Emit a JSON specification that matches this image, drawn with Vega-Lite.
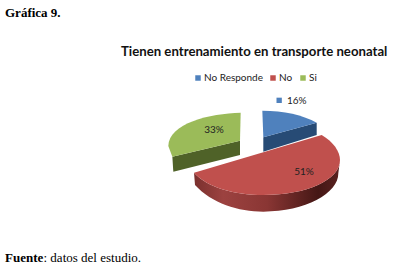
{
"$schema":"https://vega.github.io/schema/vega-lite/v6.json",
"width":397,"height":270,"padding":0,"autosize":"none","background":"white",
"view":{"stroke":null},
"title":{"text":"Tienen entrenamiento en transporte neonatal","anchor":"start","frame":"group","dx":121,"dy":69,"offset":0,"baseline":"alphabetic","font":"Lato","fontSize":13.2,"fontWeight":"bold","color":"#111111"},
"data":{"values":[{"cat":"No Responde","value":0.16},{"cat":"No","value":0.51},{"cat":"Si","value":0.33}]},
"layer":[
{"mark":{"type":"point","filled":true,"opacity":1,"size":0,"shape":"square"},
"encoding":{"color":{"field":"cat","type":"nominal","scale":{"domain":["No Responde","No","Si"],"range":["#4f81bd","#c0504d","#9bbb59"]},
"legend":{"orient":"none","legendX":193,"legendY":73,"direction":"horizontal","title":null,"symbolType":"square","symbolSize":30,"symbolStrokeWidth":0,"labelFont":"Lato","labelFontSize":10,"labelColor":"#222222","columnPadding":5,"labelOffset":1,"symbolOpacity":1}}}},
{"transform":[{"filter":"datum.cat==='No Responde'"}],"mark":{"type":"point","filled":true,"opacity":1,"size":0.4444,"color":"#274b75","shape":"M194.5 7 L354.5 -37 L354.5 0 L194.5 50 Z"}},
{"transform":[{"filter":"datum.cat==='Si'"}],"mark":{"type":"point","filled":true,"opacity":1,"size":0.4444,"color":"#4f6228","shape":"M124.5 17 L-78.5 65 L-75.5 110 L124.5 60 Z"}},
{"transform":[{"filter":"datum.cat==='No'"}],"mark":{"type":"point","filled":true,"opacity":1,"size":0.4444,"color":{"gradient":"linear","x1":0,"y1":0,"x2":1,"y2":0,"stops":[{"offset":0,"color":"#7a302e"},{"offset":0.2,"color":"#9c4240"},{"offset":0.5,"color":"#8a3634"},{"offset":0.85,"color":"#451715"},{"offset":1,"color":"#5a2220"}]},"shape":"M-13.5 113 L-10.5 150 C40 205 120 230 194.5 230 C320 230 420 175 419.5 115 L424.5 75 C424.5 135 324.5 180 194.5 180 C104.5 180 24.5 155 -13.5 113 Z"}},
{"transform":[{"filter":"datum.cat==='No Responde'"}],"mark":{"type":"point","filled":true,"opacity":1,"size":0.4444,"color":"#4f81bd","shape":"M194.5 7 L191.5 -73 C254.5 -73 314.5 -60 354.5 -37 Z"}},
{"transform":[{"filter":"datum.cat==='No'"}],"mark":{"type":"point","filled":true,"opacity":1,"size":0.4444,"color":"#c0504d","shape":"M369.5 0 C404.5 20 424.5 50 424.5 75 C424.5 135 324.5 180 194.5 180 C104.5 180 24.5 155 -13.5 113 Z"}},
{"transform":[{"filter":"datum.cat==='Si'"}],"mark":{"type":"point","filled":true,"opacity":1,"size":0.4444,"color":"#9bbb59","shape":"M126.5 -67 C34.5 -65 -90.5 -35 -90.5 33 L-78.5 65 L124.5 17 Z"}},
{"transform":[{"filter":"datum.cat==='No Responde'"}],"mark":{"type":"point","filled":true,"opacity":1,"size":0.4444,"color":"#4f81bd","shape":"M234 -112 L250 -112 L250 -96 L234 -96 Z"}},
{"transform":[{"filter":"datum.cat==='No Responde'"}],"mark":{"type":"text","dx":98.3,"dy":-34.3,"font":"Lato","fontSize":10,"color":"#222222"},"encoding":{"text":{"field":"value","type":"quantitative","format":".0%"}}},
{"transform":[{"filter":"datum.cat==='No'"}],"mark":{"type":"text","dx":105.5,"dy":36.7,"font":"Lato","fontSize":10,"color":"#222222"},"encoding":{"text":{"field":"value","type":"quantitative","format":".0%"}}},
{"transform":[{"filter":"datum.cat==='Si'"}],"mark":{"type":"text","dx":15.5,"dy":-5,"font":"Lato","fontSize":10,"color":"#222222"},"encoding":{"text":{"field":"value","type":"quantitative","format":".0%"}}},
{"data":{"values":[{"t":"Gráfica 9."}]},"mark":{"type":"text","align":"left","dx":-193.5,"dy":-122,"font":"Liberation Serif","fontSize":13,"fontWeight":"bold","color":"#000000"},"encoding":{"text":{"field":"t","type":"nominal"}}},
{"data":{"values":[{"t":"Fuente"}]},"mark":{"type":"text","align":"left","dx":-193.5,"dy":123,"font":"Liberation Serif","fontSize":13,"fontWeight":"bold","color":"#000000"},"encoding":{"text":{"field":"t","type":"nominal"}}},
{"data":{"values":[{"t":": datos del estudio."}]},"mark":{"type":"text","align":"left","dx":-155,"dy":123,"font":"Liberation Serif","fontSize":13,"color":"#000000"},"encoding":{"text":{"field":"t","type":"nominal"}}}
]
}
